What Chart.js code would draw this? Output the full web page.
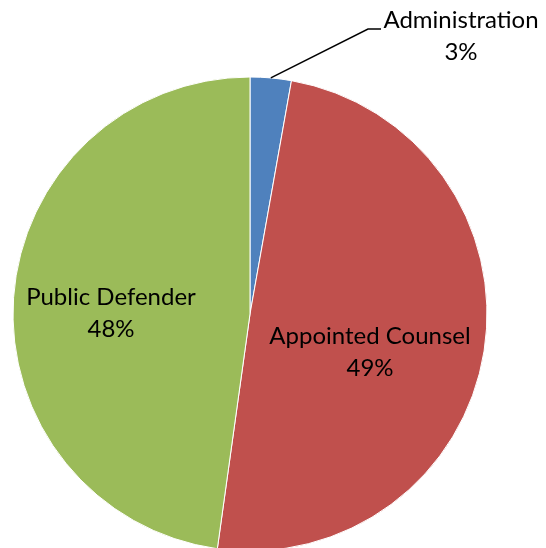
<!DOCTYPE html>
<html>
<head>
<meta charset="utf-8">
<script src="https://cdn.jsdelivr.net/npm/chart.js@4/dist/chart.umd.min.js"></script>
<style>
html,body{margin:0;padding:0;background:#fff;}
#wrap{width:546px;height:548px;position:relative;}
</style>
</head>
<body>
<div id="wrap"><canvas id="c" width="546" height="548"></canvas></div>
<script>
const categories = ["Administration", "Appointed Counsel", "Public Defender"];
const values = [2.8, 49.4, 47.8];
const pctLabels = ["3%", "49%", "48%"];
const colors = ["#4F81BD", "#C0504D", "#9BBB59"];

const FONT = '24px Lato, "Open Sans", sans-serif';

const labelPlugin = {
  id: 'sliceLabels',
  afterDraw(chart) {
    const ctx = chart.ctx;
    const arcs = chart.getDatasetMeta(0).data;
    ctx.save();
    ctx.font = FONT;
    ctx.fillStyle = '#000';
    ctx.textAlign = 'center';
    ctx.textBaseline = 'middle';
    const a = arcs[0];
    const mid = (a.startAngle + a.endAngle) / 2;
    const sx = a.x + Math.cos(mid) * a.outerRadius;
    const sy = a.y + Math.sin(mid) * a.outerRadius;
    ctx.strokeStyle = '#000';
    ctx.lineWidth = 1.5;
    ctx.beginPath();
    ctx.moveTo(sx, sy);
    ctx.lineTo(368, 29);
    ctx.lineTo(381, 29);
    ctx.stroke();
    ctx.fillText(categories[0], 461, 20);
    ctx.fillText(pctLabels[0], 461, 52);
    ctx.fillText(categories[1], 370, 336);
    ctx.fillText(pctLabels[1], 370, 368);
    ctx.fillText(categories[2], 111, 297);
    ctx.fillText(pctLabels[2], 111, 329);
    ctx.restore();
  }
};

new Chart(document.getElementById('c'), {
  type: 'pie',
  data: {
    labels: categories,
    datasets: [{
      data: values,
      backgroundColor: colors,
      borderColor: '#ffffff',
      borderWidth: 1
    }]
  },
  options: {
    responsive: false,
    animation: false,
    radius: 237,
    layout: { padding: { left: 13, right: 59, top: 80, bottom: 0 } },
    plugins: {
      legend: { display: false },
      tooltip: { enabled: false }
    }
  },
  plugins: [labelPlugin]
});
</script>
</body>
</html>
